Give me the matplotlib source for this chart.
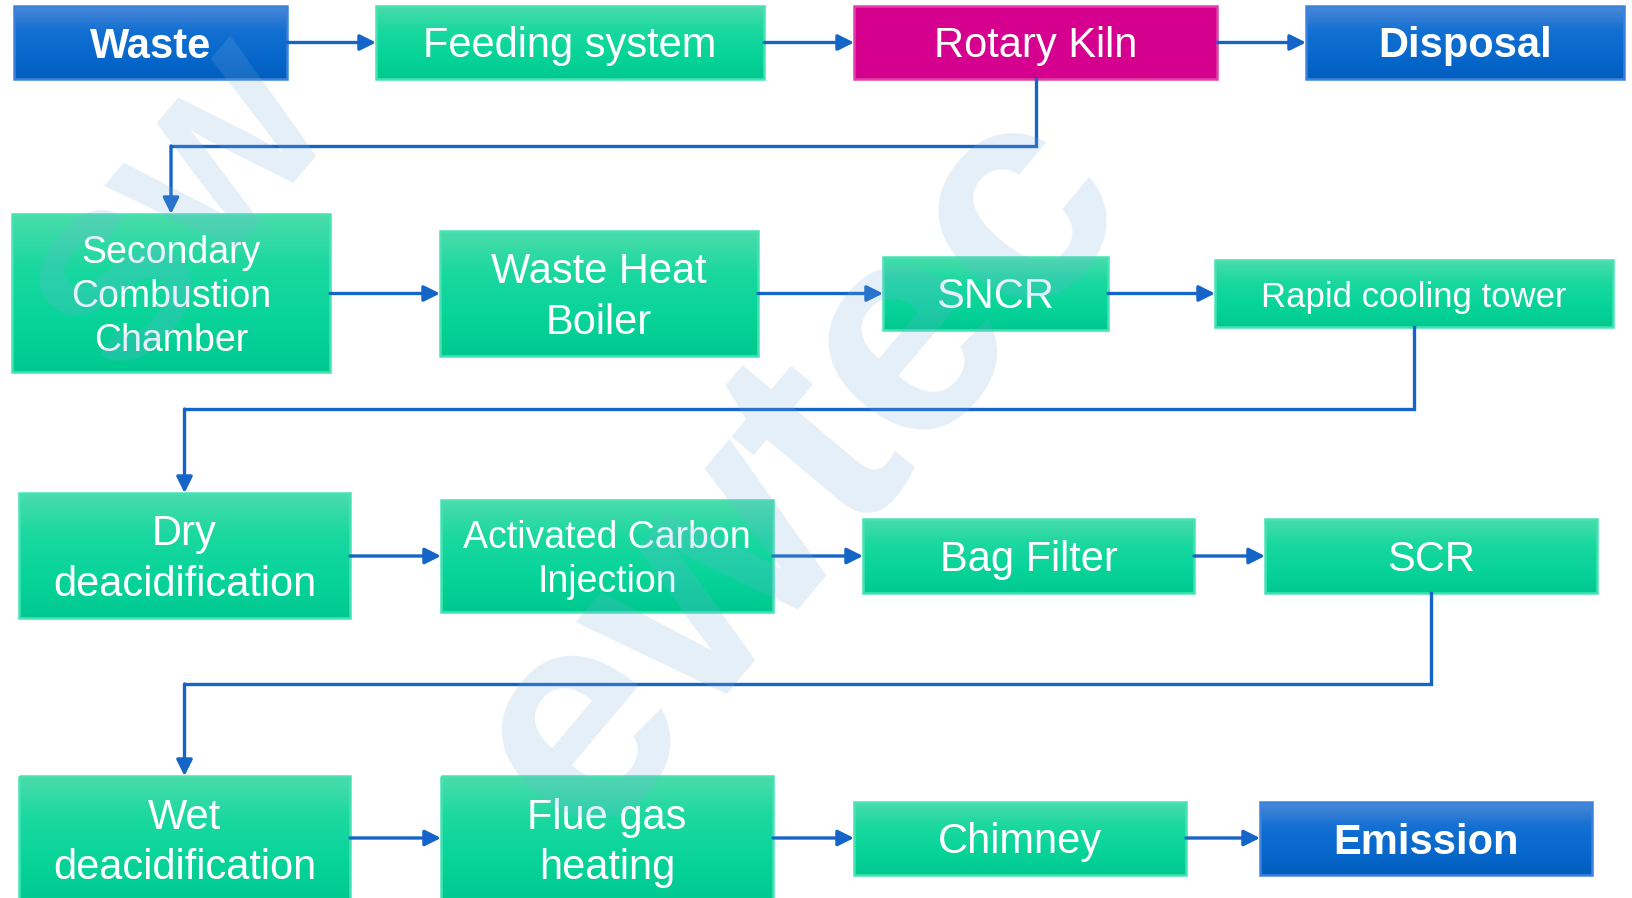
import numpy as np
import matplotlib
matplotlib.use("Agg")
import matplotlib.pyplot as plt
from matplotlib.patches import Rectangle
from matplotlib.colors import LinearSegmentedColormap

plt.rcParams['font.family'] = ['Liberation Sans', 'DejaVu Sans']

# steps of the process, in flow order
labels = ["Waste", "Feeding system", "Rotary Kiln", "Disposal",
          "Secondary\nCombustion\nChamber", "Waste Heat\nBoiler", "SNCR", "Rapid cooling tower",
          "Dry\ndeacidification", "Activated Carbon\nInjection", "Bag Filter", "SCR",
          "Wet\ndeacidification", "Flue gas\nheating", "Chimney", "Emission"]
kinds = ["blue", "green", "kiln", "blue",
         "green", "green", "green", "green",
         "green", "green", "green", "green",
         "green", "green", "green", "blue"]
sizes = [30, 30, 30, 30,
         27, 30, 30, 25,
         30, 27, 30, 30,
         30, 30, 30, 30]

# box layout in pixels: x0, x1, y0, y1 (y downward)
boxes = [(14, 287, 6, 79), (376, 764, 6, 79), (854, 1217, 6, 79), (1306, 1624, 6, 79),
         (12, 330, 214, 372), (440, 758, 231, 356), (883, 1108, 257, 330), (1215, 1613, 260, 327),
         (19, 350, 493, 618), (441, 773, 500, 612), (863, 1194, 519, 593), (1265, 1597, 519, 593),
         (19, 350, 776, 902), (441, 773, 776, 902), (854, 1186, 802, 875), (1260, 1592, 802, 875)]

# arrows: straight ones within a row, and elbow links between rows
row_links = [(0, 1), (1, 2), (2, 3), (4, 5), (5, 6), (6, 7),
             (8, 9), (9, 10), (10, 11), (12, 13), (13, 14), (14, 15)]
elbow_links = [(2, 4, 146), (7, 8, 409), (11, 12, 684)]

fig = plt.figure(figsize=(16.32, 8.98), dpi=100)
ax = fig.add_axes([0, 0, 1, 1])
ax.set_xlim(0, 1632)
ax.set_ylim(898, 0)
ax.axis('off')

cmaps = {
    "green": LinearSegmentedColormap.from_list("g", ["#4ADCAA", "#1AD8A0", "#08D49A", "#00C990"]),
    "blue": LinearSegmentedColormap.from_list("b", ["#4B88D8", "#1470D2", "#0868CC", "#005EBE"]),
    "kiln": LinearSegmentedColormap.from_list("k", ["#D6008F", "#D6008F"]),
}
edges = {"green": "#45E3B4", "blue": "#3C82DA", "kiln": "#E040A8"}
grad = np.linspace(0, 1, 200).reshape(-1, 1)

for lab, kind, fs, (x0, x1, y0, y1) in zip(labels, kinds, sizes, boxes):
    ax.imshow(grad, extent=[x0, x1, y1, y0], cmap=cmaps[kind], aspect='auto',
              origin='upper', zorder=2, interpolation='bilinear')
    ax.add_patch(Rectangle((x0, y0), x1 - x0, y1 - y0, fill=False,
                           edgecolor=edges[kind], lw=1.8, zorder=3))
    bold = 'bold' if kind == "blue" else 'normal'
    ls = 1.35 if fs >= 30 else 1.27
    ax.text((x0 + x1) / 2, (y0 + y1) / 2 + 4, lab, color='white', fontsize=fs,
            fontweight=bold, ha='center', va='center', linespacing=ls, zorder=5)

arrow_c = "#1565C8"
aprops = dict(arrowstyle='-|>', color=arrow_c, lw=2.4, mutation_scale=24,
              shrinkA=0, shrinkB=0)

for a, b in row_links:
    xa = boxes[a][1]
    xb = boxes[b][0]
    y = (boxes[b][2] + boxes[b][3]) / 2
    if b >= 12:
        y = 838
    ax.annotate("", xy=(xb, y), xytext=(xa, y), arrowprops=aprops, zorder=4)

for a, b, ymid in elbow_links:
    xa = (boxes[a][0] + boxes[a][1]) / 2
    xb = (boxes[b][0] + boxes[b][1]) / 2
    ya = boxes[a][3]
    yb = boxes[b][2]
    ax.plot([xa, xa, xb, xb], [ya, ymid, ymid, ymid], color=arrow_c, lw=2.4,
            solid_joinstyle='miter', zorder=4)
    ax.annotate("", xy=(xb, yb), xytext=(xb, ymid), arrowprops=aprops, zorder=4)

# faint company watermark across the chart
wm = (0.49, 0.685, 0.865)
ax.text(800, 470, "ewtec", fontsize=220, color=wm, alpha=0.2, fontweight='bold',
        rotation=50, ha='center', va='center', zorder=6)
ax.text(190, 215, "SW", fontsize=150, color=wm, alpha=0.2, fontweight='bold',
        rotation=50, ha='center', va='center', zorder=6)

fig.savefig("out.png", dpi=100)
